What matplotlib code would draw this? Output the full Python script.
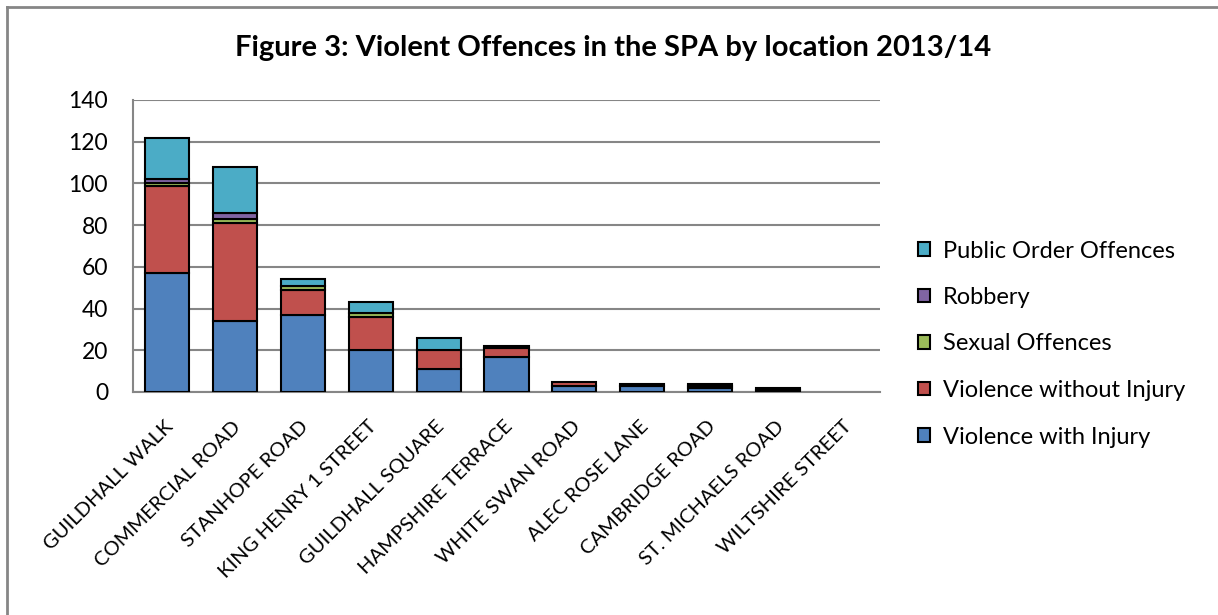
import matplotlib
matplotlib.use("Agg")
import matplotlib.pyplot as plt
from matplotlib.patches import Patch
from matplotlib.lines import Line2D
import numpy as np

plt.rcParams['font.family'] = ['Lato', 'DejaVu Sans']

locations = ["GUILDHALL WALK", "COMMERCIAL ROAD", "STANHOPE ROAD", "KING HENRY 1 STREET",
             "GUILDHALL SQUARE", "HAMPSHIRE TERRACE", "WHITE SWAN ROAD", "ALEC ROSE LANE",
             "CAMBRIDGE ROAD", "ST. MICHAELS ROAD", "WILTSHIRE STREET"]
violence_with_injury = [57, 34, 37, 20, 11, 17, 3, 3, 2, 1, 0]
violence_without_injury = [42, 47, 12, 16, 9, 4, 2, 1, 1, 1, 0]
sexual_offences = [1, 2, 2, 2, 0, 0, 0, 0, 0, 0, 0]
robbery = [2, 3, 0, 0, 0, 1, 0, 0, 0, 0, 0]
public_order = [20, 22, 3, 5, 6, 0, 0, 0, 1, 0, 0]

series = [
    ("Violence with Injury", violence_with_injury, "#4F81BD"),
    ("Violence without Injury", violence_without_injury, "#C0504D"),
    ("Sexual Offences", sexual_offences, "#9BBB59"),
    ("Robbery", robbery, "#8064A2"),
    ("Public Order Offences", public_order, "#4BACC6"),
]
yticks = [0, 20, 40, 60, 80, 100, 120, 140]

fig = plt.figure(figsize=(12.18, 6.15), dpi=100)
ax = fig.add_axes([133/1218, 1-392/615, (880-133)/1218, (392-100)/615])

x = np.arange(len(locations))
bottom = np.zeros(len(locations))
for name, vals, col in series:
    v = np.array(vals, dtype=float)
    edges = ['black' if val > 0 else 'none' for val in v]
    ax.bar(x, v, bottom=bottom, width=0.65, color=col, edgecolor=edges, linewidth=1.5, zorder=3)
    bottom += v

ax.set_xlim(-0.5, len(locations)-0.5)
ax.set_ylim(0, 140)
ax.set_yticks(yticks)
ax.set_yticklabels([str(t) for t in yticks], fontsize=16.5)
ax.yaxis.grid(True, color='#868686', linewidth=1.5, zorder=0)
ax.tick_params(axis='y', length=0, pad=18)
ax.tick_params(axis='x', length=0)
for s in ['top', 'right']:
    ax.spines[s].set_visible(False)
ax.spines['left'].set_color('#868686')
ax.spines['bottom'].set_color('#868686')
ax.spines['left'].set_linewidth(1.5)
ax.spines['bottom'].set_linewidth(1.5)

ax.set_xticks(x)
ax.set_xticklabels(locations, rotation=45, ha='right', va='top', rotation_mode='anchor', fontsize=14.5)
for lbl in ax.get_xticklabels():
    lbl.set_transform(lbl.get_transform() + matplotlib.transforms.ScaledTranslation(-0.03, -0.21, fig.dpi_scale_trans))

fig.text(613/1218, 1-48/615, "Figure 3: Violent Offences in the SPA by location 2013/14",
         ha='center', va='center', fontsize=21, fontweight='bold')

handles = [Patch(facecolor=col, edgecolor='black', linewidth=1.5, label=name) for name, vals, col in series][::-1]
leg = fig.legend(handles=handles, loc='center left', bbox_to_anchor=(906/1218, 1-344/615),
                 frameon=False, fontsize=17, handlelength=0.5, handleheight=0.5,
                 handletextpad=0.55, labelspacing=1.08, borderpad=0)

# outer chart border (only top/left visible in crop)
fig.add_artist(Line2D([7/1218, 7/1218], [0, 1-7/615], transform=fig.transFigure, color='#868686', linewidth=2))
fig.add_artist(Line2D([7/1218, 1], [1-7/615, 1-7/615], transform=fig.transFigure, color='#868686', linewidth=2))

fig.savefig("out.png", dpi=100)
